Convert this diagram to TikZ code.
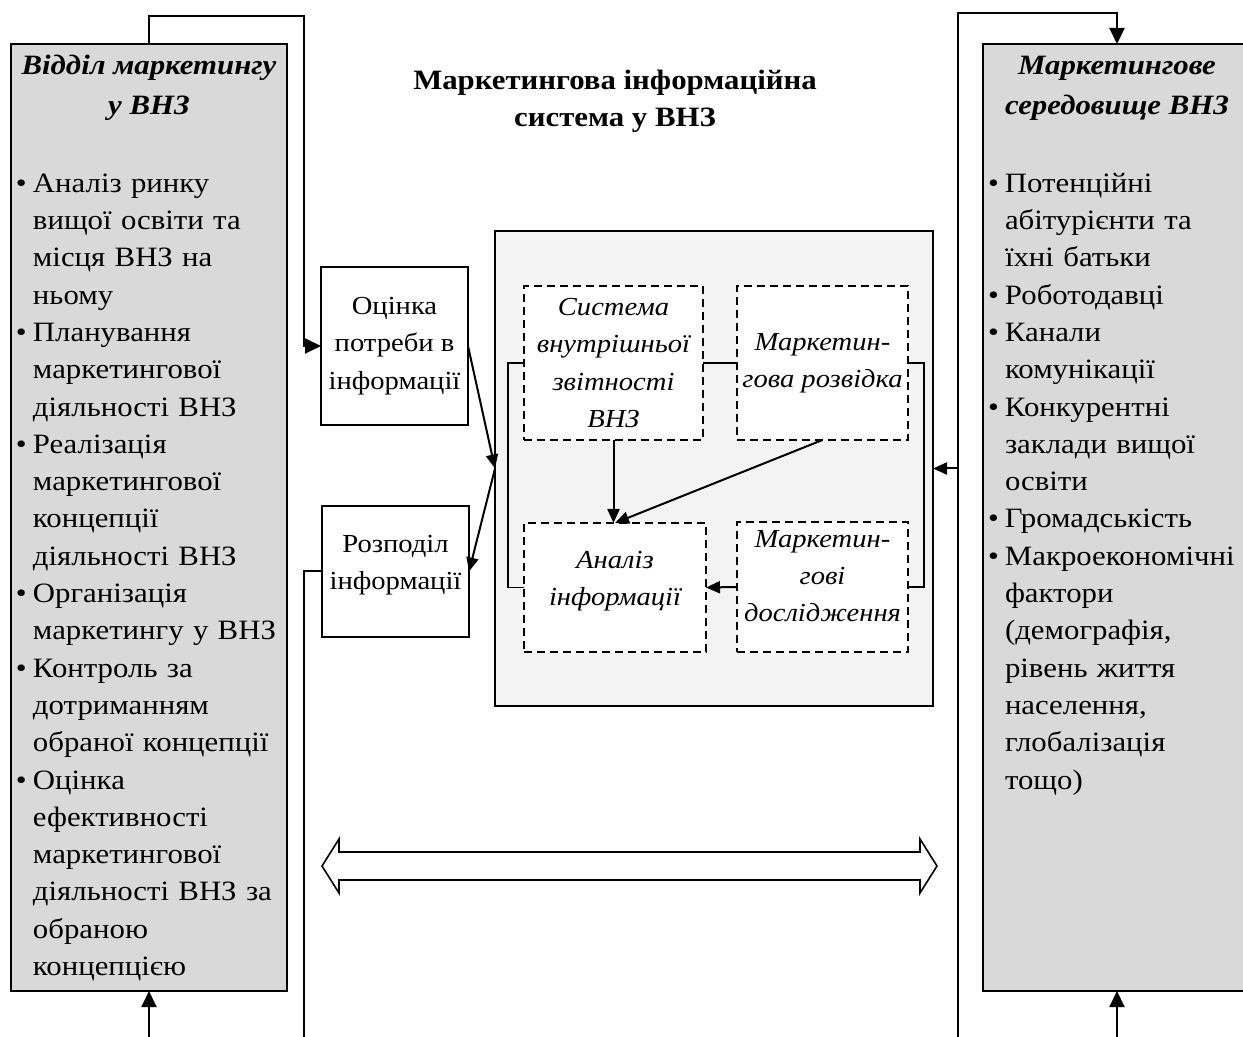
\documentclass[tikz,border=0pt]{standalone}
\usepackage{fontspec}
\setmainfont{Liberation Serif}[FakeStretch=1.1]
\usetikzlibrary{positioning,arrows.meta,calc}
\definecolor{panelC}{HTML}{D9D9D9}
\definecolor{misC}{HTML}{F3F3F3}
\definecolor{darkC}{HTML}{000000}

% bullet item with hanging indent (lines inside an item are broken by \newline)
\newcommand{\bitem}{\par\hangindent=8.5pt\hangafter=1\noindent\makebox[8.5pt][l]{\textbullet}}

\begin{document}
\begin{tikzpicture}[
  x=0.5pt, y=-0.5pt,
  every node/.style={font=\fontsize{13}{18.65}\selectfont, text=darkC,
                     inner sep=0pt, outer sep=0pt},
  panelbox/.style 2 args={
    draw=darkC, fill=panelC, line width=0.8pt,
    minimum width=#1, minimum height=#2,
  },
  stepbox/.style 2 args={
    draw=darkC, fill=white, line width=0.9pt, align=center,
    minimum width=#1, minimum height=#2,
  },
  subbox/.style 2 args={
    draw=darkC, fill=white, line width=0.8pt, dash pattern=on 4pt off 2.5pt,
    align=center, font=\fontsize{13}{18.65}\selectfont\itshape,
    minimum width=#1, minimum height=#2,
  },
  paneltitle/.style={font=\fontsize{14}{20}\selectfont\bfseries\itshape, align=center},
  paneltext/.style={font=\fontsize{14}{18.65}\selectfont, text width=160pt, align=left},
  flow/.style={-{Triangle[length=8pt,width=7.5pt]}, darkC, line width=1pt},
  subflow/.style={-{Triangle[length=7pt,width=6pt]}, darkC, line width=1pt},
  link/.style={darkC, line width=0.8pt},
]
\useasboundingbox (0,0) rectangle (1243,1037);
\clip (0,0) rectangle (1243,1037);

% ── Side panels ──
\node[panelbox={138pt}{473.5pt}] (dept) at (149,517.5) {};
\node[paneltitle, anchor=north] (deptT) at ([yshift=-5.5pt]dept.north)
      {Відділ маркетингу\\у ВНЗ};
\node[paneltext, anchor=north west] (deptL) at ([xshift=2.5pt,yshift=-55.5pt]dept.north west)
      {\bitem Аналіз ринку\newline вищої освіти та\newline місця ВНЗ на\newline ньому
       \bitem Планування\newline маркетингової\newline діяльності ВНЗ
       \bitem Реалізація\newline маркетингової\newline концепції\newline діяльності ВНЗ
       \bitem Організація\newline маркетингу у ВНЗ
       \bitem Контроль за\newline дотриманням\newline обраної концепції
       \bitem Оцінка\newline ефективності\newline маркетингової\newline діяльності ВНЗ за\newline обраною\newline концепцією\par};

\node[panelbox={134pt}{473.5pt}] (env) at (1117,517.5) {};
\node[paneltitle, anchor=north] (envT) at ([yshift=-6pt]env.north)
      {Маркетингове\\середовище ВНЗ};
\node[paneltext, anchor=north west] (envL) at ([xshift=2.5pt,yshift=-55.5pt]env.north west)
      {\bitem Потенційні\newline абітурієнти та\newline їхні батьки
       \bitem Роботодавці
       \bitem Канали\newline комунікації
       \bitem Конкурентні\newline заклади вищої\newline освіти
       \bitem Громадськість
       \bitem Макроекономічні\newline фактори\newline (демографія,\newline рівень життя\newline населення,\newline глобалізація\newline тощо)\par};

% ── Title ──
\node[font=\fontsize{14}{18.65}\selectfont\bfseries, align=center, anchor=north]
      (title) at (615,70) {Маркетингова інформаційна\\система у ВНЗ};

% ── Need / distribution ──
\node[stepbox={73.5pt}{79pt}] (need) at (394.5,346) {Оцінка\\потреби в\\інформації};
\node[stepbox={73.5pt}{65.5pt}, text depth=9pt] (distr) at (395.5,571.5) {Розподіл\\інформації};

% ── Marketing information system ──
\node[draw=darkC, fill=misC, line width=0.9pt,
      minimum width=219pt, minimum height=237.5pt] (mis) at (714,468.5) {};
\node[subbox={89.5pt}{77pt}] (sys) at (613.5,363) {Система\\внутрішньої\\звітності\\ВНЗ};
\node[subbox={85.5pt}{77pt}, right=17pt of sys] (intel) {Маркетин-\\гова розвідка};
\node[subbox={91pt}{64.5pt}, text depth=9pt] (anal) at (615,587.5) {Аналіз\\інформації};
\node[subbox={85.5pt}{65pt}, text depth=11pt, below=41pt of intel] (res) {Маркетин-\\гові\\дослідження};

% ── Links inside the system ──
\draw[link] (sys.east) -- (intel.west);
\draw[link] (sys.west) -- ++(-8pt,0) |- (anal.west);
\draw[link] (intel.east) -- ++(8pt,0) |- (res.east);
\draw[subflow] (sys.south) -- (sys.south |- anal.north);
\draw[subflow] (intel.south) -- (anal.north);
\draw[subflow] (res.west) -- (anal.east);

% ── Flow to and from the system ──
\draw[subflow] (need.east) -- (mis.west);
\draw[subflow] (mis.west) -- (distr.east);

% ── Outer loops ──
\coordinate (topL) at (303.5,16);
\coordinate (botL) at (303.5,1037);
\coordinate (topR) at (958,13);
\coordinate (botR) at (958,1037);
\draw[flow] (dept.north) |- (topL) |- (need.west);
\draw[link, line width=1pt] (distr.west) -| (botL);
\draw[flow] (dept.south |- botL) -- (dept.south);
\draw[flow] (botR) -- (topR) -| (env.north);
\draw[subflow] (mis.east -| botR) -- (mis.east);
\draw[flow] (env.south |- botR) -- (env.south);

% ── Two-way exchange arrow ──
\draw[link, fill=white]
    (322,866) -- (339,839) -- (339,852) -- (920,852) -- (920,839) -- (937,866)
 -- (920,893) -- (920,880) -- (339,880) -- (339,893) -- cycle;

\end{tikzpicture}
\end{document}
